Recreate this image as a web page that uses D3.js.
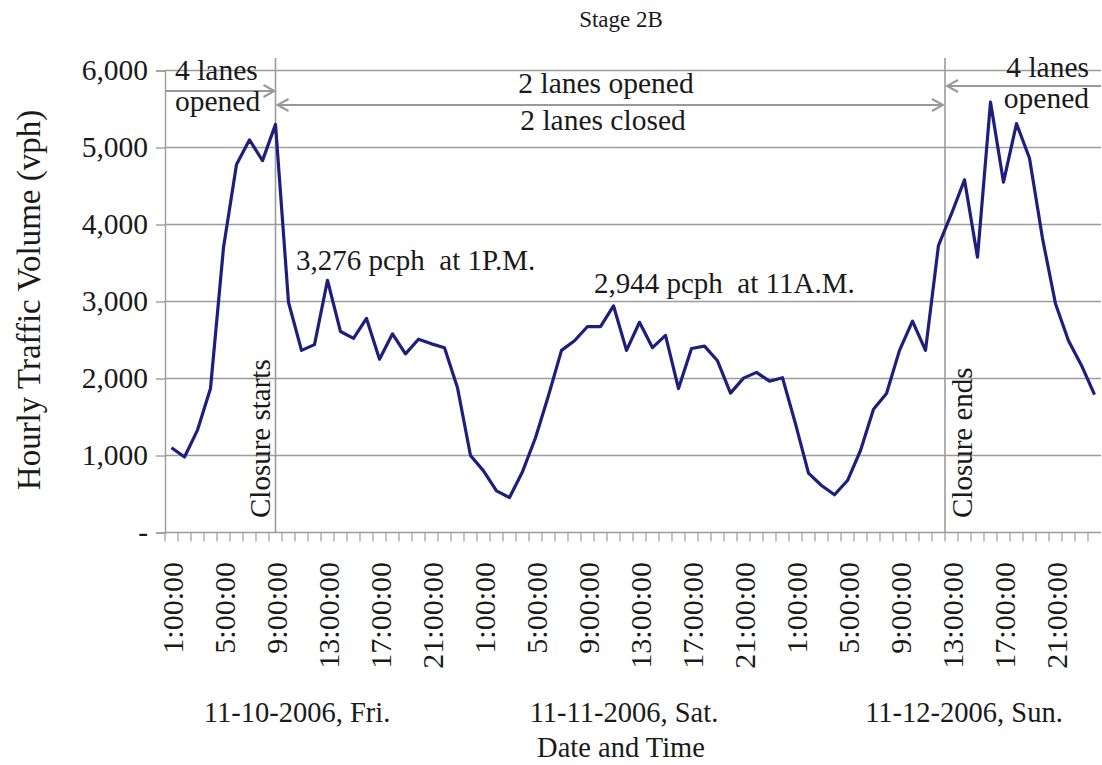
<!DOCTYPE html>
<html>
<head>
<meta charset="utf-8">
<script src="https://cdn.jsdelivr.net/npm/d3@7"></script>
<style>
  body { margin: 0; background: #fff; }
  text { font-family: "Liberation Serif", "Times New Roman", serif; fill: #1a1a1a; white-space: pre; }
</style>
</head>
<body>
<svg id="chart" width="1102" height="765"></svg>
<script>
// data
var days = ["11-10-2006, Fri.", "11-11-2006, Sat.", "11-12-2006, Sun."];
var hours = [1, 2, 3, 4, 5, 6, 7, 8, 9, 10, 11, 12, 13, 14, 15, 16, 17, 18, 19, 20, 21, 22, 23, 24];
var tickHours = [1, 5, 9, 13, 17, 21];
var yTicks = [0, 1000, 2000, 3000, 4000, 5000, 6000];

// hourly volume, Fri 1:00 -> Sun 24:00
var volume = [
  1100, 980, 1330, 1870, 3700, 4780, 5100, 4830, 5300, 2990, 2365, 2440,
  3276, 2610, 2520, 2780, 2250, 2580, 2320, 2510, 2450, 2400, 1880, 1000,
  800, 540, 455, 790, 1230, 1780, 2365, 2490, 2675, 2675, 2944, 2365,
  2730, 2400, 2560, 1870, 2390, 2420, 2230, 1810, 2005, 2080, 1965, 2010,
  1410, 770, 610, 490, 675, 1065, 1600, 1805, 2365, 2745, 2365, 3730,
  4140, 4580, 3575, 5590, 4550, 5310, 4860, 3820, 2970, 2490, 2170, 1790
];

var closureStart = {day: 0, hour: 9};
var closureEnd = {day: 2, hour: 13};

// build category table
var cats = [];
days.forEach(function(d, di) {
  hours.forEach(function(h) {
    cats.push({key: di + "-" + h, day: di, hour: h, value: volume[cats.length]});
  });
});

var svg = d3.select("#chart");
var plotLeft = 165, plotRight = 1101, plotTop = 70.5, plotBottom = 532.5;
var grey = "#9c9c9c";

var x = d3.scaleBand().domain(cats.map(function(d){ return d.key; })).range([plotLeft, plotRight]).padding(0);
var y = d3.scaleLinear().domain([0, 6000]).range([plotBottom, plotTop]);
var cx = function(k) { return x(k) + x.bandwidth() / 2; };

// title
svg.append("text").attr("x", 621).attr("y", 27).attr("text-anchor", "middle")
  .style("font-size", "23px").text("Stage 2B");

// gridlines
svg.append("g").selectAll("line").data(yTicks.filter(function(v){ return v > 0; })).enter()
  .append("line")
    .attr("x1", plotLeft).attr("x2", plotRight)
    .attr("y1", function(d){ return y(d); }).attr("y2", function(d){ return y(d); })
    .attr("stroke", grey).attr("stroke-width", 1.4);

// y axis
var yAxis = svg.append("g").attr("transform", "translate(" + plotLeft + ",0)")
  .call(d3.axisLeft(y).tickValues(yTicks).tickSize(9).tickPadding(8)
    .tickFormat(function(d){ return d === 0 ? "-" : d3.format(",")(d); }));
yAxis.select(".domain").attr("stroke", grey).attr("stroke-width", 1.4);
yAxis.selectAll(".tick line").attr("stroke", grey).attr("stroke-width", 1.4);
yAxis.selectAll(".tick text").attr("fill", "#1a1a1a")
  .style("font-family", "Liberation Serif, Times New Roman, serif").style("font-size", "29.5px");

// x axis baseline and category ticks
svg.append("line").attr("x1", plotLeft).attr("x2", plotRight).attr("y1", plotBottom).attr("y2", plotBottom)
  .attr("stroke", grey).attr("stroke-width", 1.6);
svg.append("g").selectAll("line").data(cats).enter().append("line")
  .attr("x1", function(d){ return x(d.key); }).attr("x2", function(d){ return x(d.key); })
  .attr("y1", plotBottom).attr("y2", plotBottom + 9)
  .attr("stroke", grey).attr("stroke-width", 1.2);

// x tick labels (rotated)
svg.append("g").selectAll("text")
  .data(cats.filter(function(d){ return tickHours.indexOf(d.hour) >= 0; })).enter()
  .append("text")
    .attr("transform", function(d){ return "translate(" + (cx(d.key) + 1) + ",562) rotate(-90)"; })
    .attr("dy", "0.35em").attr("text-anchor", "end")
    .style("font-size", "30px")
    .text(function(d){ return d.hour + ":00:00"; });

// day labels
var dayLabelX = [297, 624, 964];
svg.append("g").selectAll("text").data(days).enter().append("text")
  .attr("x", function(d, i){ return dayLabelX[i]; }).attr("y", 722)
  .attr("text-anchor", "middle").style("font-size", "28.5px").text(function(d){ return d; });

svg.append("text").attr("x", 621).attr("y", 757).attr("text-anchor", "middle")
  .style("font-size", "28.5px").text("Date and Time");

svg.append("text").attr("transform", "translate(40,300) rotate(-90)")
  .attr("text-anchor", "middle").style("font-size", "33px").text("Hourly Traffic Volume (vph)");

// closure lines
var xs = cx(closureStart.day + "-" + closureStart.hour);
var xe = x(closureEnd.day + "-" + closureEnd.hour);
[xs, xe].forEach(function(v) {
  svg.append("line").attr("x1", v).attr("x2", v).attr("y1", 58).attr("y2", plotBottom)
    .attr("stroke", grey).attr("stroke-width", 1.6);
});
svg.append("text").attr("transform", "translate(" + (xs - 6) + ",518) rotate(-90)")
  .style("font-size", "29px").text("Closure starts");
svg.append("text").attr("transform", "translate(" + (xe + 27) + ",518) rotate(-90)")
  .style("font-size", "29px").text("Closure ends");

// arrows
function arrow(x1, x2, yy, headStart, headEnd) {
  var g = svg.append("g").attr("stroke", "#999").attr("stroke-width", 2).attr("fill", "none");
  g.append("line").attr("x1", x1).attr("x2", x2).attr("y1", yy).attr("y2", yy);
  var hd = function(xp, dir) {
    g.append("path").attr("d", "M" + (xp - dir * 11) + "," + (yy - 6) + "L" + xp + "," + yy + "L" + (xp - dir * 11) + "," + (yy + 6));
  };
  if (headStart) hd(x1, x1 < x2 ? -1 : 1);
  if (headEnd) hd(x2, x2 > x1 ? 1 : -1);
}
arrow(plotLeft, xs - 1, 91, false, true);
arrow(xs + 2, xe - 2, 105, true, true);
arrow(plotRight, xe + 2, 86, false, true);

// annotation texts
var fs = "29.5px";
svg.append("text").attr("x", 175).attr("y", 80).style("font-size", fs).text("4 lanes");
svg.append("text").attr("x", 175).attr("y", 111).style("font-size", fs).text("opened");
svg.append("text").attr("x", 1089).attr("y", 77).attr("text-anchor", "end").style("font-size", fs).text("4 lanes");
svg.append("text").attr("x", 1089).attr("y", 108).attr("text-anchor", "end").style("font-size", fs).text("opened");
svg.append("text").attr("x", 606).attr("y", 93).attr("text-anchor", "middle").style("font-size", fs).text("2 lanes opened");
svg.append("text").attr("x", 603).attr("y", 130).attr("text-anchor", "middle").style("font-size", fs).text("2 lanes closed");
svg.append("text").attr("x", 296).attr("y", 270).style("font-size", "29px").text("3,276 pcph  at 1P.M.");
svg.append("text").attr("x", 594).attr("y", 293).style("font-size", "29px").text("2,944 pcph  at 11A.M.");

// the series
var line = d3.line().x(function(d){ return cx(d.key); }).y(function(d){ return y(d.value); });
svg.append("path").datum(cats).attr("d", line)
  .attr("fill", "none").attr("stroke", "#1e1e7c").attr("stroke-width", 3.2).attr("stroke-linejoin", "round");
</script>
</body>
</html>
